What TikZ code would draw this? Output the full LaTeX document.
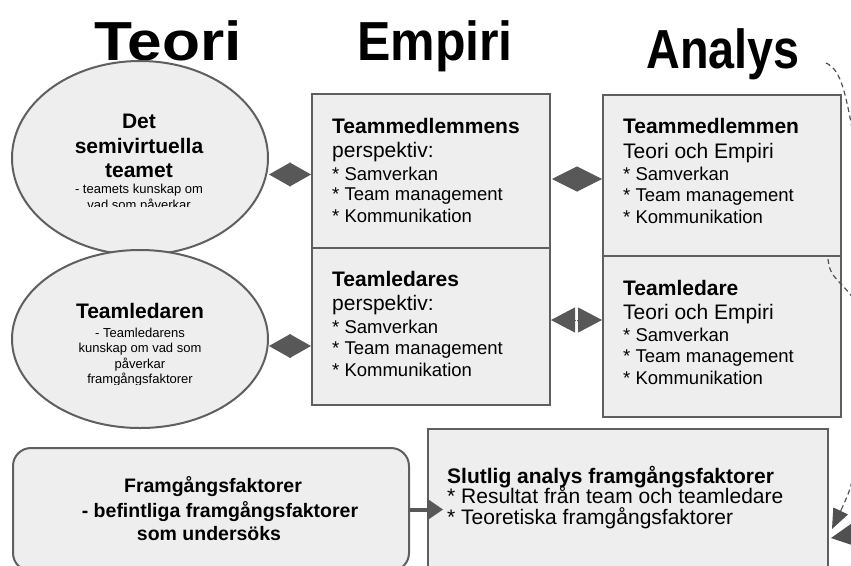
\documentclass[tikz,border=0pt]{standalone}
\usepackage{fontspec}
\usepackage{graphicx}
\setmainfont{Liberation Sans}
\usetikzlibrary{shapes.geometric,arrows.meta,calc}
\definecolor{boxfill}{RGB}{238,238,238}
\definecolor{boxline}{RGB}{95,95,95}
\definecolor{arrowgray}{RGB}{88,88,88}
\definecolor{dashgray}{RGB}{80,80,80}
\tikzset{
  shapebox/.style={draw=boxline, line width=2pt, fill=boxfill, inner sep=0pt},
  recbox/.style={shapebox, rectangle, anchor=north west},
  ttl/.style={font=\fontsize{55}{65}\selectfont\bfseries, anchor=base, inner sep=0pt},
  hd/.style={font=\fontsize{21}{25}\selectfont\bfseries, anchor=base west, inner sep=0pt},
  hdc/.style={font=\fontsize{21}{25}\selectfont\bfseries, anchor=base, inner sep=0pt},
  sm/.style={font=\fontsize{13}{15}\selectfont, anchor=base, inner sep=0pt},
  rg/.style={font=\fontsize{21}{25}\selectfont, anchor=base west, inner sep=0pt},
  bl/.style={font=\fontsize{18.5}{22}\selectfont, anchor=base west, inner sep=0pt},
  fb/.style={font=\fontsize{19.5}{23}\selectfont\bfseries, anchor=base, inner sep=0pt},
  dblA/.style={draw=arrowgray, fill=arrowgray, line width=1pt,
    {Triangle[length=21.5pt,width=24pt]}-{Triangle[length=21.5pt,width=24pt]}},
  dblB/.style={draw=arrowgray, fill=arrowgray, line width=1pt,
    {Triangle[length=25pt,width=25pt]}-{Triangle[length=25pt,width=25pt]}},
  oneA/.style={draw=arrowgray, fill=arrowgray, line width=1pt,
    -{Triangle[length=24pt,width=25pt]}},
  flow/.style={draw=arrowgray, line width=4pt, -{Triangle[length=16pt,width=22pt,line width=0pt]}},
  dsh/.style={draw=dashgray, line width=1.2pt, dash pattern=on 5pt off 3.5pt},
  dtip/.style={draw=dashgray, fill=dashgray, line width=1pt}
}
\begin{document}
\begin{tikzpicture}[x=1pt,y=-1pt]
\useasboundingbox (0,0) rectangle (851,565);
\clip (0,0) rectangle (851,565);

% titles
\node[ttl] (tTeori) at (168,60) {\scalebox{1.13}[1]{Teori}};
\node[ttl] (tEmpiri) at (435,60) {\scalebox{0.91}[1]{Empiri}};
\node[ttl] (tAnalys) at (723,68) {\scalebox{0.85}[1]{Analys}};

% shapes
\node[shapebox, ellipse, minimum width=256pt, minimum height=194pt] (e1) at (140,158) {};
\node[shapebox, ellipse, minimum width=256pt, minimum height=178pt] (e2) at (140,339) {};
\node[recbox, minimum width=238pt, minimum height=154pt] (b1) at (311,93) {};
\node[recbox, minimum width=238pt, minimum height=157pt] (b2) at (311,247) {};
\node[recbox, minimum width=238pt, minimum height=161pt] (a1) at (602,94) {};
\node[recbox, minimum width=238pt, minimum height=161pt] (a2) at (602,255) {};
\node[recbox, rounded corners=18pt, minimum width=396pt, minimum height=123pt] (fr) at (12,447) {};
\node[recbox, minimum width=400pt, minimum height=152pt] (sl) at (427,428) {};

% ellipse 1 text
\node[hdc] (e1l1) at (139,128) {Det};
\node[hdc] (e1l2) at (139,153) {semivirtuella};
\node[hdc] (e1l3) at (139,177) {teamet};
\node[sm] (e1l4) at (139,193) {- teamets kunskap om};
\begin{scope}
  \clip (0,0) rectangle (851,206.5);
  \node[sm] (e1l5) at (139,209) {vad som påverkar};
\end{scope}

% ellipse 2 text
\node[hdc] (e2l1) at (140,318) {Teamledaren};
\node[sm] (e2l2) at (140,337) {- Teamledarens};
\node[sm] (e2l3) at (140,352.5) {kunskap om vad som};
\node[sm] (e2l4) at (140,368) {påverkar};
\begin{scope}
  \clip (0,0) rectangle (851,384.5);
  \node[sm] (e2l5) at (140,383) {framgångsfaktorer};
\end{scope}

% Empiri box 1
\node[hd] (b1l1) at (332,133) {Teammedlemmens};
\node[rg] (b1l2) at (332,157) {perspektiv:};
\node[bl] (b1l3) at (332,180) {* Samverkan};
\node[bl] (b1l4) at (332,200.5) {* Team management};
\node[bl] (b1l5) at (332,222) {* Kommunikation};

% Empiri box 2
\node[hd] (b2l1) at (332,286) {Teamledares};
\node[rg] (b2l2) at (332,310) {perspektiv:};
\node[bl] (b2l3) at (332,333) {* Samverkan};
\node[bl] (b2l4) at (332,354) {* Team management};
\node[bl] (b2l5) at (332,376) {* Kommunikation};

% Analys box 1
\node[hd] (a1l1) at (623,133) {Teammedlemmen};
\node[rg] (a1l2) at (623,158) {Teori och Empiri};
\node[bl] (a1l3) at (623,180) {* Samverkan};
\node[bl] (a1l4) at (623,201.5) {* Team management};
\node[bl] (a1l5) at (623,223) {* Kommunikation};

% Analys box 2
\node[hd] (a2l1) at (623,295) {Teamledare};
\node[rg] (a2l2) at (623,319) {Teori och Empiri};
\node[bl] (a2l3) at (623,341) {* Samverkan};
\node[bl] (a2l4) at (623,362.5) {* Team management};
\node[bl] (a2l5) at (623,384) {* Kommunikation};

% Framgangsfaktorer box
\node[fb] (frl1) at (213,492) {Framgångsfaktorer};
\node[fb] (frl2) at (220,517) {- befintliga framgångsfaktorer};
\node[fb] (frl3) at (209,540) {som undersöks};

% Slutlig box
\node[hd] (sll1) at (447,483) {Slutlig analys framgångsfaktorer};
\node[rg] (sll2) at (447,503.5) {* Resultat från team och teamledare};
\node[rg] (sll3) at (447,524) {* Teoretiska framgångsfaktorer};

% connectors
\coordinate (c1) at ($(b1.west)+(0,3.5)$);
\draw[dblA] (e1.east |- c1) -- (c1);
\coordinate (c2) at ($(b2.west)+(0,19.5)$);
\draw[dblA] (e2.east |- c2) -- (c2);
\coordinate (c3) at ($(b1.east)+(1,8)$);
\draw[dblB] (c3) -- (a1.west |- c3);
\coordinate (c4) at ($(b2.east)+(0,-6.5)$);
\coordinate (c4m) at ($(c4)!0.5!(a2.west |- c4)$);
\draw[oneA] ($(c4m)+(-0.6,0)$) -- (c4);
\draw[oneA] ($(c4m)+(0.6,0)$) -- (a2.west |- c4);
\coordinate (c5) at ($(fr.east)+(33,0)$);
\draw[flow] (fr.east) -- (c5);

% dashed curves on the right
\coordinate (d1s) at (826,63);
\coordinate (d1e) at (856,150);
\draw[dsh] (d1s) .. controls (842,70) and (846,95) .. (d1e);
\coordinate (d2s) at ($(a2.north east)+(-14,4)$);
\coordinate (d2e) at (858,305);
\draw[dsh] (d2s) .. controls (830,280) and (840,278) .. (d2e);
\coordinate (h1s) at (856,465);
\coordinate (h1m) at (843,506);
\coordinate (h1t) at ($(sl.north east)+(3,101)$);
\draw[dsh] (h1s) .. controls (850,490) .. (h1m);
\draw[dtip, -{Triangle[length=20pt,width=16pt]}] (h1m) -- (h1t);
\coordinate (h2s) at (872,532);
\coordinate (h2t) at ($(sl.north east)+(2,110)$);
\draw[dtip, -{Triangle[length=23pt,width=23pt]}] (h2s) -- (h2t);
\end{tikzpicture}
\end{document}
